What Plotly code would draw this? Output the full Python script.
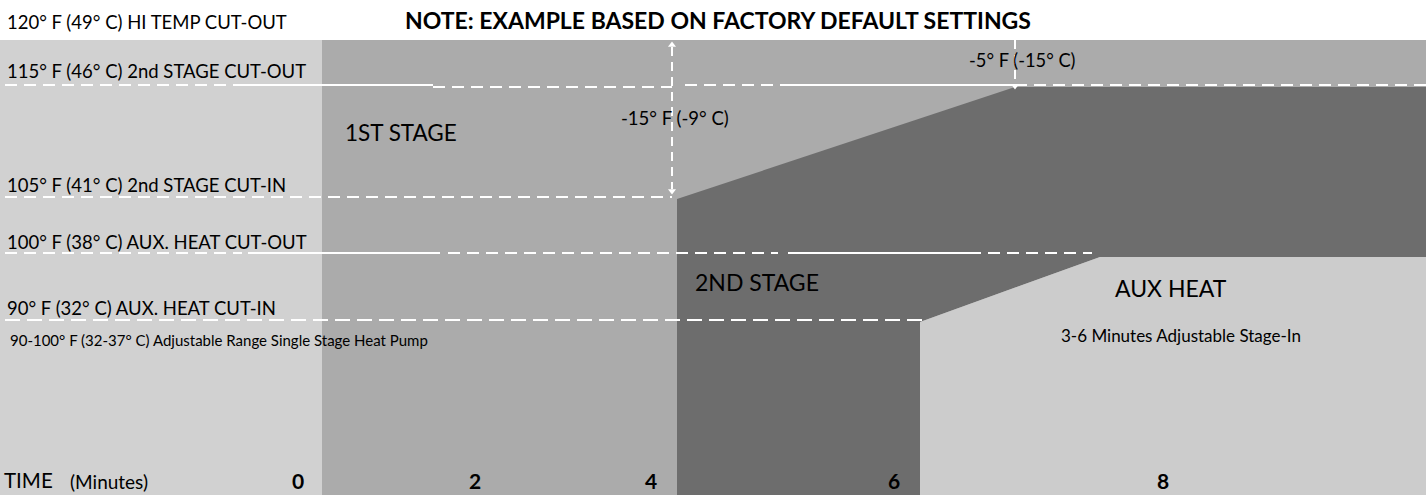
import plotly.graph_objects as go

W, H = 1426, 495
TOP = 40  # top edge of the shaded diagram (schematic units = px)

# ---- time axis (minutes) ----
time_ticks = ["0", "2", "4", "6", "8"]
time_tick_x = [298, 475, 651, 894, 1163]

# ---- stage boundaries along the schematic time axis ----
stage1_start_x = 322
stage2_start_x = 677
stage2_ramp_end_x = 1015
aux_start_x = 920
aux_ramp_end_x = 1100

# ---- set-point rows (schematic vertical position) ----
setpoint_labels = [
    "120° F (49° C) HI TEMP CUT-OUT",
    "115° F (46° C) 2nd STAGE CUT-OUT",
    "105° F (41° C) 2nd STAGE CUT-IN",
    "100° F (38° C) AUX. HEAT CUT-OUT",
    "90° F (32° C) AUX. HEAT CUT-IN",
]
setpoint_label_y = [22, 71, 185, 242, 308]
setpoint_line_y = [None, 85, 197, 253, 320]

# line segments per set-point: (level index, x0, x1, style)
line_segments = [
    (1, 5, 240, "dash"), (1, 240, 433, "solid"), (1, 433, 672, "dash"),
    (1, 685, 785, "dash"), (1, 785, 1015, "solid"), (1, 1015, 1426, "dash"),
    (2, 5, 672, "dash"),
    (3, 5, 242, "dash"), (3, 248, 440, "solid"), (3, 448, 778, "dash"),
    (3, 788, 981, "solid"), (3, 988, 1092, "dash"),
    (4, 5, 922, "longdash"),
]

# stage 2 top ramp and aux ramp levels
stage2_top_y = [199, 87]
aux_top_y = [322, 257]

fig = go.Figure()

def poly(xs, ys, color):
    fig.add_trace(go.Scatter(x=xs, y=ys, mode="lines", fill="toself",
                             fillcolor=color, line=dict(width=0, color=color),
                             hoverinfo="skip"))

# background regions
poly([0, stage1_start_x, stage1_start_x, 0], [TOP, TOP, H, H], "#D1D1D1")
poly([stage1_start_x, W, W, stage1_start_x], [TOP, TOP, H, H], "#ABABAB")
# 2nd stage (dark)
poly([stage2_start_x, stage2_ramp_end_x, W, W, aux_ramp_end_x, aux_start_x, aux_start_x, stage2_start_x],
     [stage2_top_y[0], stage2_top_y[1], stage2_top_y[1], aux_top_y[1], aux_top_y[1], aux_top_y[0], H, H],
     "#6D6D6D")
# aux heat
poly([aux_start_x, aux_ramp_end_x, W, W, aux_start_x],
     [aux_top_y[0], aux_top_y[1], aux_top_y[1], H, H], "#CCCCCC")

dash_map = {"dash": "12px,7px", "longdash": "15px,7px", "solid": "solid"}
for lvl, x0, x1, style in line_segments:
    y = setpoint_line_y[lvl]
    if lvl == 1 and x1 <= 672 and x0 >= 433:
        y = 87
    fig.add_trace(go.Scatter(x=[x0, x1], y=[y, y], mode="lines",
                             line=dict(color="white", width=2, dash=dash_map[style]),
                             hoverinfo="skip"))

# differential arrows
arrow_x = [672, 1015]
arrow_y0 = [47, TOP]
arrow_y1 = [189, 84]
for ax, y0, y1 in zip(arrow_x, arrow_y0, arrow_y1):
    fig.add_trace(go.Scatter(x=[ax, ax], y=[y0, y1], mode="lines",
                             line=dict(color="white", width=2, dash="9px,6px"),
                             hoverinfo="skip"))
fig.add_trace(go.Scatter(x=[672, 672, 1015], y=[45, 191, 86], mode="markers",
                         marker=dict(symbol=["triangle-up", "triangle-down", "triangle-down"],
                                     size=7, color="white"),
                         hoverinfo="skip"))

FONT = "Lato"
ann = []
def txt(x, y, s, size, bold=False, anchor="left", family=FONT):
    ann.append(dict(x=x, y=y, xref="x", yref="y", text=(f"<b>{s}</b>" if bold else s),
                    showarrow=False, xanchor=anchor, yanchor="middle",
                    font=dict(family=family, size=size, color="black")))

for lab, ly in zip(setpoint_labels, setpoint_label_y):
    txt(5, ly, lab, 18.5)

txt(718, 20, "NOTE: EXAMPLE BASED ON FACTORY DEFAULT SETTINGS", 23, bold=True, anchor="center")
txt(343, 132, "1ST STAGE", 22.5)
txt(619, 118, "-15° F (-9° C)", 18.5)
txt(967, 60, "-5° F (-15° C)", 18.3)
txt(8, 340, "90-100° F (32-37° C) Adjustable Range Single Stage Heat Pump", 15)
txt(693, 282, "2ND STAGE", 23)
txt(1113, 288, "AUX HEAT", 23)
txt(1059, 335, "3-6 Minutes Adjustable Stage-In", 17)
txt(2, 480, "TIME", 20.5)
txt(68, 481, "(Minutes)", 19)
for t, tx in zip(time_ticks, time_tick_x):
    txt(tx, 480, t, 21, bold=True, anchor="center")

fig.update_layout(
    width=W, height=H, margin=dict(l=0, r=0, t=0, b=0),
    paper_bgcolor="white", plot_bgcolor="white", showlegend=False,
    xaxis=dict(range=[0, W], visible=False, fixedrange=True),
    yaxis=dict(range=[H, 0], visible=False, fixedrange=True),
    annotations=ann,
)
fig.write_html("out.html", config={"displayModeBar": False},
               post_script="document.body.style.margin='0px';")
